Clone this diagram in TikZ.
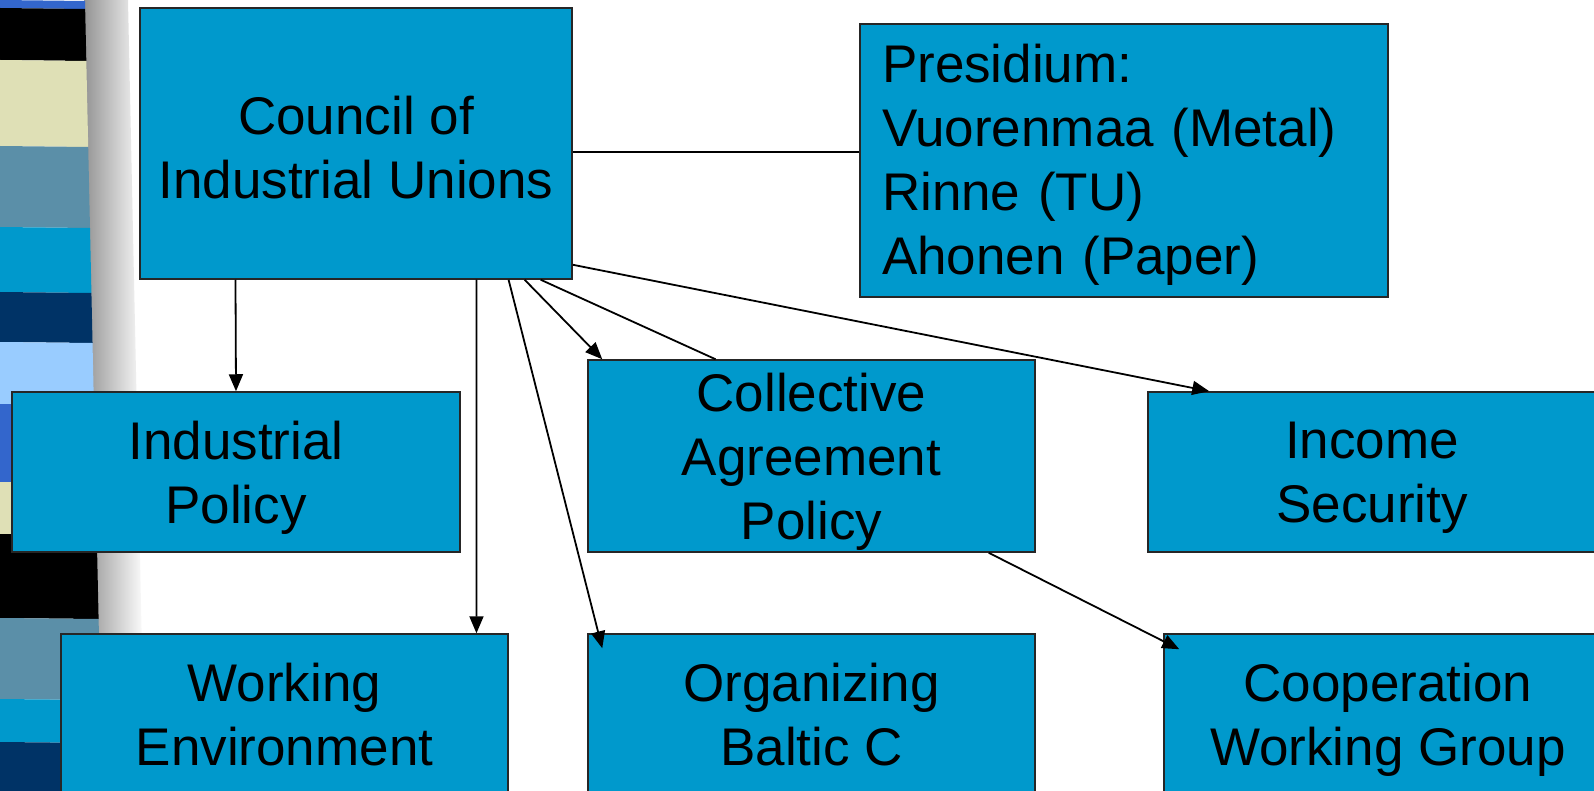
\documentclass[tikz,border=0pt]{standalone}
\usepackage{fontspec}
\setmainfont{Liberation Sans}
\usetikzlibrary{arrows.meta,calc}
\definecolor{boxblue}{HTML}{0099CC}
\definecolor{stblue}{HTML}{3366CC}
\definecolor{stbeige}{HTML}{DFE0B6}
\definecolor{ststeel}{HTML}{5B8FA8}
\definecolor{stcyan}{HTML}{0099CC}
\definecolor{stnavy}{HTML}{003366}
\definecolor{stlight}{HTML}{99CCFF}
\begin{document}
\begin{tikzpicture}[x=1pt,y=-1pt,
  box/.style={draw=black!85, line width=1.5pt, fill=boxblue, inner sep=0pt,
    align=center, text depth=0pt, font=\fontsize{53}{64}\selectfont, text=black},
  conn/.style={line width=1.8pt, draw=black},
  arr/.style={conn, -{Triangle[length=17pt,width=14pt]}}]
\clip (0,0) rectangle (1594,791);
\fill[white] (0,0) rectangle (1594,791);
% shadow of the stripe band
\shade[left color=black!42, middle color=black!12, right color=white]
  (84,0) -- (128,0) -- (145,791) -- (101,791) -- cycle;
% stripes
\foreach \ya/\yb/\c in {0/8/stblue, 8/60/black, 60/146/stbeige, 146/227/ststeel,
  227/292/stcyan, 292/342/stnavy, 342/404/stlight, 404/482/stblue,
  482/534/stbeige, 534/618/black, 618/699/ststeel, 699/742/stcyan, 742/791/stnavy}{
  \fill[\c] (0,\ya) -- ({85+0.022*\ya},\ya+1) -- ({85+0.022*\yb},\yb+1) -- (0,\yb) -- cycle;
}
% boxes
\node[box, minimum width=432pt, minimum height=271pt, text height=110pt] (council) at (356,143.5)
  {Council of\\Industrial Unions};
\node[box, minimum width=528pt, minimum height=273pt, align=left, text width=484pt,
  text height=38pt, text depth=193pt]
  (pres) at (1124,160.5)
  {Presidium:\\Vuorenmaa (Metal)\\Rinne (TU)\\Ahonen (Paper)};
\node[box, minimum width=448pt, minimum height=160pt] (indp) at (236,472)
  {Industrial\\Policy};
\node[box, minimum width=447pt, minimum height=192pt] (coll) at (811.5,456)
  {Collective\\Agreement\\Policy};
\node[box, minimum width=448pt, minimum height=160pt] (inc) at (1372,472)
  {Income\\Security};
\node[box, minimum width=447pt, minimum height=160pt] (work) at (284.5,714)
  {Working\\Environment};
\node[box, minimum width=447pt, minimum height=160pt] (org) at (811.5,714)
  {Organizing\\Baltic C};
\node[box, minimum width=448pt, minimum height=160pt] (coop) at (1388,714)
  {Cooperation\\Working Group};
% connectors
\draw[conn] (council.east |- 0,152) -- (pres.west |- 0,152);
\draw[arr] ($(council.south west)!0.222!(council.south east)$) -- (indp.north);
\draw[arr] ($(council.south west)!0.778!(council.south east)$) -- ($(work.north west)!0.928!(work.north east)$);
\draw[arr] ($(council.south west)!0.852!(council.south east)$) -- ($(org.north west)+(15,15)$);
\draw[arr] ($(council.south west)!0.889!(council.south east)$) -- ($(coll.north west)+(15,0)$);
\draw[conn] ($(council.south west)!0.926!(council.south east)$) -- ($(coll.north west)!0.286!(coll.north east)$);
\draw[arr] ($(council.north east)!0.945!(council.south east)$) -- ($(inc.north west)+(62,0)$);
\draw[arr] ($(coll.south west)!0.895!(coll.south east)$) -- ($(coop.north west)+(16,16)$);
\end{tikzpicture}
\end{document}
